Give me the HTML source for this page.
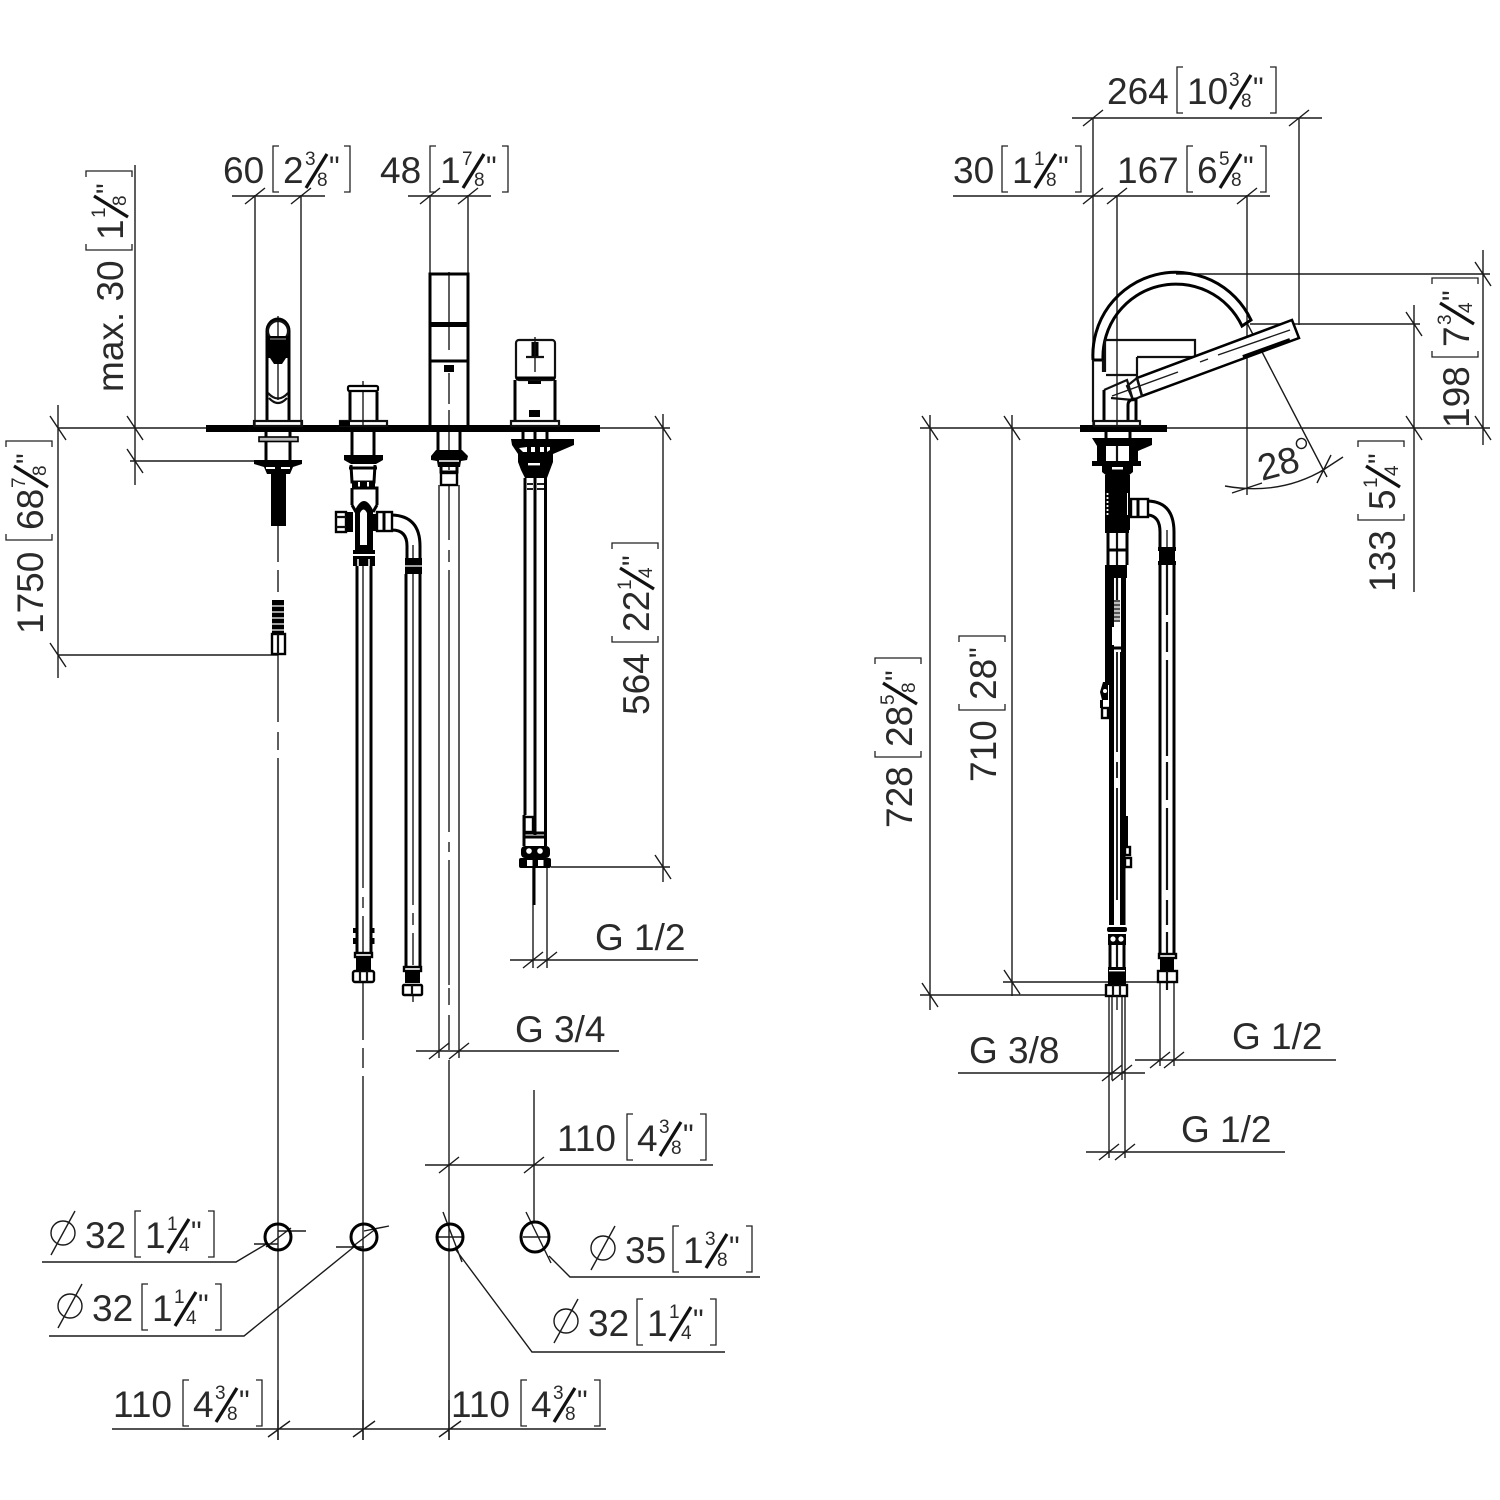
<!DOCTYPE html>
<html><head><meta charset="utf-8"><style>
html,body{margin:0;padding:0;background:#fff}
svg{display:block}
text{font-family:"Liberation Sans",sans-serif;font-size:37px;fill:#2a2a2a;stroke:none;transform:translateY(-1px)}
.s{font-size:19px}
.q{font-size:30px}
.n{fill:none;stroke:#1a1a1a;stroke-width:1.4}
.m{fill:none;stroke:#111;stroke-width:2.2}
.k{fill:none;stroke:#000;stroke-width:3}
.b{fill:#000;stroke:none}
.w{fill:#fff;stroke:#000;stroke-width:2.4}
.f{fill:none;stroke:#111;stroke-width:3.2}
.l{fill:none;stroke:#222;stroke-width:1.3}
</style></head><body>
<svg width="1500" height="1500" viewBox="0 0 1500 1500" xmlns="http://www.w3.org/2000/svg">
<rect width="1500" height="1500" fill="#fff"/>

<!-- LEFT VIEW dimension lines -->
<path class="n" d="M255 195V428M301 195V428M232 196H325M245 204L265 188M291 204L311 188
M430 195V428M468 195V428M408 196H491M420 204L440 188M458 204L478 188
M135 165V485M58 428H206M130 461H258M127 416L143 440M127 449L143 473
M58 405V678M58 655H278M50 416L66 440M50 643L66 667
M663 414V882M600 428H670M551 867H670M655 416L671 440M655 855L671 879
M510 960H698M533 868V968M547 868V968M523 968L543 952M537 968L557 952
M416 1051H619M439 485V1058M459 485V1058M429 1059L449 1043M449 1059L469 1043
M425 1165H713M534 1090V1222M439 1173L459 1157M524 1173L544 1157
M112 1429H606M278 1400V1440M363 1400V1440M449 1400V1440M268 1437L290 1421M353 1437L375 1421M439 1437L461 1421"/>
<!-- centre lines -->
<path class="n" d="M278 526V562M278 570V592M278 655V722M278 732V750M278 758V1440
M363 982V1040M363 1048V1068M363 1076V1440
M449 1060V1440"/>
<path class="n" d="M278 316V400M363 381V425M449 272V350M449 373V404M449 410V428M449 432V470M535 337V372"/>
<path class="n" d="M449 485V540M449 550V562M449 570V832M449 842V852M449 860V985M449 988V1005M449 1015V1050"/>
<path class="n" d="M363 566V888M363 897V908M363 916V953M413 574V905M413 913V925M413 933V965M413 995V1002"/>

<!-- Deck -->
<rect class="b" x="206" y="425" width="394" height="7"/>

<!-- Tap 1 -->
<path class="k" d="M267 421V331A11 12 0 0 1 289 331V421"/>
<circle class="m" cx="278" cy="331" r="10"/>
<rect class="b" x="268" y="336" width="20" height="22"/>
<path class="b" d="M270 358h16l-4 6h-8z"/>
<path d="M270 339h16" stroke="#888" stroke-width="1.2"/>
<path class="m" d="M268 393Q278 404 288 393M269 398Q278 408 287 398"/>
<rect class="m" x="254" y="421" width="48" height="5"/>
<path class="k" d="M266 432V461M290 432V461"/>
<rect x="259" y="437" width="39" height="4.5" fill="#bbb" stroke="#000" stroke-width="1.6"/>
<path class="b" d="M254 460H302V464L293 467L290 474H267L264 467L254 464Z"/>
<path d="M266 468H275M281 468H290" stroke="#fff" stroke-width="2"/>
<rect class="b" x="271" y="473" width="15" height="53"/>
<!-- lower thread -->
<path class="b" d="M272 600h12v34h-12z"/>
<path d="M272 606h12M272 612h12M272 618h12M272 624h12M272 630h12" stroke="#fff" stroke-width="1.2"/>
<rect class="w" x="272" y="634" width="13" height="20"/>
<path class="m" d="M278 634V654"/>

<!-- Tap 2 -->
<path class="k" d="M350 392V421M377 392V421"/>
<rect x="348" y="386" width="30" height="5" rx="1.5" fill="#fff" stroke="#000" stroke-width="2.2"/>
<rect class="m" x="340" y="421" width="47" height="5"/>
<rect class="b" x="339" y="421" width="11" height="5"/>
<path class="k" d="M352 432V456M374 432V456"/>
<path class="b" d="M344 455H383V460L376 464H351L344 460Z"/>
<path class="k" d="M351 465L352 482H374L375 465M349 468H377"/>
<rect class="b" x="352" y="482" width="23" height="5"/>
<path d="M359 482V487M368 482V487" stroke="#fff" stroke-width="2"/>
<path class="k" d="M352 488H377V505M352 488V505"/>
<path class="b" d="M355 552V510Q364 492 373 510V552Z"/>
<path fill="#fff" d="M360 545V513Q363.500 506 367 513V545Z"/>
<path class="k" d="M352 505L356 512M377 505L373 512"/>
<rect class="b" x="345" y="512" width="8" height="20"/>
<rect class="w" x="336" y="512" width="10" height="20"/>
<path class="m" d="M336 517H346M336 527H346"/>
<rect class="b" x="373" y="514" width="4" height="17"/>
<rect class="w" x="377" y="512" width="15" height="19"/>
<path class="k" d="M384 512V531"/>
<path class="k" d="M392 515Q420 516 420 546V560M392 530Q407 530 407 546V560"/>
<path class="b" d="M353 550H375V554H353ZM353 556H375V566H353Z"/>
<path d="M358 559V566M369 559V566" stroke="#fff" stroke-width="1.5"/>
<path class="k" d="M357 566V953M371 566V953"/>
<rect class="w" x="355" y="953" width="17" height="4"/>
<rect class="b" x="356" y="957" width="15" height="13"/>
<rect class="w" x="353" y="971" width="21" height="11" rx="2"/>
<path class="m" d="M360 971V982M367 971V982"/>
<path class="k" d="M354.500 928V933M354.500 938V944M373 928V933M373 938V944"/>
<!-- tap 2 hose right -->
<rect class="b" x="405" y="558" width="17" height="16"/>
<path d="M405 566H422" stroke="#fff" stroke-width="1.2"/>
<path class="n" d="M413 545V558"/>
<path class="k" d="M406 574V968M420 574V968"/>
<rect class="w" x="404" y="967" width="17" height="4"/>
<rect class="b" x="405" y="971" width="15" height="12"/>
<rect class="w" x="403" y="985" width="19" height="10" rx="1"/>
<path class="m" d="M412 985V995"/>

<!-- Tap 3 -->
<rect class="k" x="430" y="274" width="38" height="153"/>
<rect class="b" x="430" y="322" width="38" height="5"/>
<path class="k" d="M430 361H468"/>
<rect class="b" x="444" y="365" width="10" height="7"/>
<path class="k" d="M438 432V452M460 432V452"/>
<path class="b" d="M436 450H462L468 456L467 460L461 461L460 467H438L437 461L431 460L431 456Z"/>
<path d="M439 461H459" stroke="#fff" stroke-width="1.6"/>
<path class="k" d="M441 467V472H457V467"/>
<rect class="w" x="441" y="473" width="16" height="12"/>

<!-- Tap 4 -->
<rect class="m" x="516" y="340" width="39" height="40" rx="3"/>
<path class="k" d="M515 380V421M555 380V421M516 378H555"/>
<path class="m" d="M526 357H544"/>
<path class="k" d="M533 342V356M537 342V356"/>
<rect class="b" x="528" y="381" width="13" height="3"/>
<rect class="b" x="529" y="410" width="11" height="7"/>
<rect class="m" x="511" y="421" width="48" height="5"/>
<path class="k" d="M523 432V440M547 432V440M535 432V440"/>
<path class="b" d="M511 439H574V445L553 454V462L550 470L547 478H525L521 470L518 462V454L512 445Z"/>
<path d="M519 448l4 4h4v-5zM531 447v5h4v-5zM540 447v5h4v-5zM547 447v5l3-2v-3z" fill="#fff"/>
<rect x="528" y="463" width="12" height="2.400" fill="#fff"/>
<path class="k" d="M525 478V815" stroke-width="3.600"/>
<path class="k" d="M545.500 478V846" stroke-width="3.600"/>
<path class="k" d="M535 478V835" stroke-width="4"/>
<path d="M527 484H533M537 484H544M527 489H533M537 489H544" stroke="#000" stroke-width="1.8"/>
<rect class="w" x="524.500" y="817" width="8.500" height="15"/>
<path class="k" d="M524 815V846"/>
<path class="k" d="M523 833H547M523 837H547"/>
<rect class="b" x="521" y="846" width="29" height="12" rx="4"/>
<circle cx="529" cy="851" r="2.800" fill="#fff"/><circle cx="540" cy="851" r="2.800" fill="#fff"/>
<rect class="b" x="519" y="858" width="32" height="10" rx="2"/>
<rect x="527" y="860" width="5.500" height="6" fill="#fff"/><rect x="538" y="860" width="5.500" height="6" fill="#fff"/>
<path class="k" d="M534 868V905"/>

<!-- Plan circles -->
<path class="n" d="M254 1244H278M278 1231H306M266 1247L291 1228M336 1247H364M364 1231L389 1226M352 1247L377 1228
M443 1212L462 1262M438 1237H462M526 1212L551 1263M523 1237H548
M268 1243L236 1262H42M355 1246L244 1336H49M456 1250L532 1352H725M549 1256L570 1277H760"/>
<ellipse class="k" cx="278" cy="1237" rx="13" ry="13"/>
<ellipse class="k" cx="364" cy="1237" rx="13" ry="13"/>
<ellipse class="k" cx="450" cy="1237" rx="13" ry="13"/>
<ellipse class="k" cx="535" cy="1237" rx="14" ry="15"/>

<!-- RIGHT VIEW dimension lines -->
<path class="n" d="M1072 118H1322M1093 118V428M1299 118V325M1083 126L1103 110M1289 126L1309 110
M953 196H1270M1117 195V428M1247 195V495M1083 204L1103 188M1107 204L1127 188M1237 204L1257 188
M920 428H1490M1176 274H1490M1250 324H1420
M1414 305V592M1406 312L1422 336M1406 416L1422 440
M1483 250V445M1475 262L1491 286M1475 416L1491 440
M930 415V1010M920 995H1105M922 416L938 440M922 983L938 1007
M1012 415V996M1003 982H1177M1004 416L1020 440M1004 970L1020 994
M1135 1060H1336M1160 982V1066M1174 982V1066M1150 1068L1170 1052M1164 1068L1184 1052
M958 1073H1145M1112 996V1080M1122 996V1080M1102 1081L1122 1065M1112 1081L1132 1065
M1086 1152H1285M1109 996V1158M1125 996V1158M1099 1160L1119 1144M1115 1160L1135 1144
M1247 323L1327 477M1232 493L1262 483M1317 483L1331 455M1320 472L1343 457"/>
<path class="n" d="M1225 486Q1280 496 1325 469"/>
<rect class="b" x="1080" y="425" width="87" height="7"/>
<!-- Spout -->
<path class="k" d="M1093 360A83 83 0 0 1 1251 320L1242 326A73 73 0 0 0 1103 360M1093 360H1103" stroke-width="2.400"/>
<path class="m" d="M1093 360V422M1103 360V372"/>
<path class="m" d="M1105 340H1195V356M1105 340V372M1137 357H1193M1137 357V377M1106 375H1137"/>
<path d="M1137 378L1292 320L1299 338L1142 396Z" fill="#fff" stroke="#000" stroke-width="2.500"/>
<path class="m" d="M1127 386L1137 378L1142 396L1133 400Z"/>
<path class="m" d="M1104 390L1127 380L1133 400L1111 398"/>
<path class="n" d="M1112 396L1178 372M1200 362L1208 359M1218 355L1290 330"/>
<path d="M1243 357L1290 340" stroke="#000" stroke-width="4" fill="none"/>
<path class="k" d="M1104 390V420M1128 422V405Q1128 399 1136 399V420"/>
<rect class="m" x="1094" y="421" width="46" height="5"/>
<!-- Under deck -->
<path class="k" d="M1106 432V440M1130 432V440"/>
<path class="b" d="M1092 438H1152V445L1138 451V461H1141V466L1133 466V472L1128 476H1107L1102 472V466H1092V461H1097V446Z"/>
<rect x="1106" y="446" width="23" height="15" fill="#fff"/>
<path class="m" d="M1117 446V461"/>
<rect x="1112" y="467" width="11" height="2.500" fill="#fff"/>
<rect class="b" x="1105" y="475" width="25" height="55"/>
<path d="M1107.500 493V515" stroke="#fff" stroke-width="1.800" stroke-dasharray="2 2"/>
<path d="M1127.500 493V515" stroke="#fff" stroke-width="1" />
<rect class="w" x="1131" y="499" width="17" height="18"/>
<path class="k" d="M1138 499V517"/>
<path class="k" d="M1148 501Q1174 502 1174 532V547M1148 515Q1160 516 1160 532V547"/>
<path class="n" d="M1167 530V547"/>
<rect class="b" x="1105" y="530" width="24" height="3"/>
<path class="k" d="M1108 533V565M1127 533V565" stroke-width="3.500"/>
<path class="m" d="M1117 533V565"/>
<path class="k" d="M1108 550H1127"/>
<path class="b" d="M1106 565H1127V578H1106Z"/>
<rect class="b" x="1105" y="565" width="4" height="120"/>
<rect class="b" x="1109" y="578" width="5" height="74"/>
<rect class="b" x="1121" y="578" width="5" height="240"/>
<path class="m" d="M1117 578V600"/>
<path d="M1114 600H1120V622H1114Z" fill="#555"/>
<path d="M1114 603h6M1114 607h6M1114 611h6M1114 615h6M1114 619h6" stroke="#fff" stroke-width="1.200"/>
<rect x="1112" y="627" width="9" height="18" fill="#fff"/>
<path class="k" d="M1110 648H1124"/>
<rect class="b" x="1109" y="652" width="5" height="273"/>
<rect class="b" x="1120" y="652" width="5.500" height="273"/>
<path d="M1117 652V752M1117 762V778M1117 788V900" stroke="#111" stroke-width="1.800" fill="none"/>
<!-- clips -->
<path class="b" d="M1108 682V700L1102 700L1100 692L1103 682Z"/>
<circle cx="1105" cy="691" r="2" fill="#fff"/>
<rect class="w" x="1102" y="708" width="6" height="10"/>
<path class="k" d="M1101.500 700V708"/>
<rect class="b" x="1125" y="816" width="3" height="30"/>
<rect class="w" x="1125" y="847" width="5" height="8"/>
<rect class="w" x="1125" y="858" width="6" height="9"/>
<!-- bottom of main hose -->
<rect class="b" x="1107" y="927" width="20" height="5" rx="2"/>
<rect class="b" x="1108" y="934" width="18" height="11"/>
<circle cx="1113" cy="939" r="2.600" fill="#fff"/><circle cx="1121" cy="939" r="2.600" fill="#fff"/>
<path class="k" d="M1110 945V968M1124 945V968"/><path class="m" d="M1117 945V968"/>
<rect class="b" x="1108" y="967" width="18" height="17"/>
<rect x="1109" y="970" width="16" height="1.400" fill="#fff"/>
<rect class="w" x="1106" y="985" width="21" height="11"/>
<path class="m" d="M1113 985V996M1120 985V996"/>
<path class="n" d="M1117 996V1010"/>
<!-- right hose -->
<rect class="b" x="1158" y="547" width="18" height="4"/>
<rect class="b" x="1159" y="551" width="16" height="10"/>
<rect class="b" x="1158" y="561" width="18" height="4"/>
<path class="k" d="M1160 565V955M1174 565V955"/>
<path class="m" d="M1167 565V615M1167 622V652M1167 660V756M1167 762V800M1167 808V890M1167 900V925M1167 932V990"/>
<rect class="w" x="1159" y="954" width="17" height="4"/>
<rect class="b" x="1160" y="958" width="14" height="13"/>
<rect class="w" x="1158" y="971" width="19" height="11"/>
<path class="m" d="M1167 971V982"/>

<!-- LABELS -->
<g transform="translate(223,184)"><text x="0">60</text><path class="l" d="M56-38h-6v46h6M121-38h6v46h-6"/><text x="60">2</text><text class="s" x="82" y="-18">3</text><path class="f" d="M83 4L104-30"/><text class="s" x="94" y="3">8</text><text class="q" x="106" y="-6">"</text></g>
<g transform="translate(380,184)"><text x="0">48</text><path class="l" d="M56-38h-6v46h6M122-38h6v46h-6"/><text x="60">1</text><text class="s" x="82" y="-18">7</text><path class="f" d="M83 4L104-30"/><text class="s" x="94" y="3">8</text><text class="q" x="106" y="-6">"</text></g>
<g transform="translate(1107,105)"><text x="0">264</text><path class="l" d="M76-38h-6v46h6M163-38h6v46h-6"/><text x="80">10</text><text class="s" x="122" y="-18">3</text><path class="f" d="M123 4L144-30"/><text class="s" x="134" y="3">8</text><text class="q" x="146" y="-6">"</text></g>
<g transform="translate(953,184)"><text x="0">30</text><path class="l" d="M55-38h-6v46h6M122-38h6v46h-6"/><text x="59">1</text><text class="s" x="81" y="-18">1</text><path class="f" d="M82 4L103-30"/><text class="s" x="93" y="3">8</text><text class="q" x="105" y="-6">"</text></g>
<g transform="translate(1117,184)"><text x="0">167</text><path class="l" d="M76-38h-6v46h6M143-38h6v46h-6"/><text x="80">6</text><text class="s" x="102" y="-18">5</text><path class="f" d="M103 4L124-30"/><text class="s" x="114" y="3">8</text><text class="q" x="126" y="-6">"</text></g>
<g transform="translate(557,1152)"><text x="0">110</text><path class="l" d="M76-38h-6v46h6M143-38h6v46h-6"/><text x="80">4</text><text class="s" x="102" y="-18">3</text><path class="f" d="M103 4L124-30"/><text class="s" x="114" y="3">8</text><text class="q" x="126" y="-6">"</text></g>
<g transform="translate(113,1418)"><text x="0">110</text><path class="l" d="M76-38h-6v46h6M143-38h6v46h-6"/><text x="80">4</text><text class="s" x="102" y="-18">3</text><path class="f" d="M103 4L124-30"/><text class="s" x="114" y="3">8</text><text class="q" x="126" y="-6">"</text></g>
<g transform="translate(451,1418)"><text x="0">110</text><path class="l" d="M76-38h-6v46h6M143-38h6v46h-6"/><text x="80">4</text><text class="s" x="102" y="-18">3</text><path class="f" d="M103 4L124-30"/><text class="s" x="114" y="3">8</text><text class="q" x="126" y="-6">"</text></g>

<g transform="translate(85,1249)"><circle class="n" cx="-22" cy="-16" r="12"/><path class="n" d="M-34 6L-10-38"/><text x="0">32</text><path class="l" d="M56-38h-6v46h6M123-38h6v46h-6"/><text x="60">1</text><text class="s" x="82" y="-18">1</text><path class="f" d="M83 4L104-30"/><text class="s" x="94" y="3">4</text><text class="q" x="106" y="-6">"</text></g>
<g transform="translate(92,1322)"><circle class="n" cx="-22" cy="-16" r="12"/><path class="n" d="M-34 6L-10-38"/><text x="0">32</text><path class="l" d="M56-38h-6v46h6M123-38h6v46h-6"/><text x="60">1</text><text class="s" x="82" y="-18">1</text><path class="f" d="M83 4L104-30"/><text class="s" x="94" y="3">4</text><text class="q" x="106" y="-6">"</text></g>
<g transform="translate(625,1264)"><circle class="n" cx="-22" cy="-16" r="12"/><path class="n" d="M-34 6L-10-38"/><text x="0">35</text><path class="l" d="M54-38h-6v46h6M121-38h6v46h-6"/><text x="58">1</text><text class="s" x="80" y="-18">3</text><path class="f" d="M81 4L102-30"/><text class="s" x="92" y="3">8</text><text class="q" x="104" y="-6">"</text></g>
<g transform="translate(588,1337)"><circle class="n" cx="-22" cy="-16" r="12"/><path class="n" d="M-34 6L-10-38"/><text x="0">32</text><path class="l" d="M55-38h-6v46h6M122-38h6v46h-6"/><text x="59">1</text><text class="s" x="81" y="-18">1</text><path class="f" d="M82 4L103-30"/><text class="s" x="93" y="3">4</text><text class="q" x="105" y="-6">"</text></g>

<g transform="translate(124,392) rotate(-90)"><text x="0">max. 30</text><path class="l" d="M148-38h-6v46h6M215-38h6v46h-6"/><text x="152">1</text><text class="s" x="174" y="-18">1</text><path class="f" d="M175 4L196-30"/><text class="s" x="186" y="3">8</text><text class="q" x="198" y="-6">"</text></g>
<g transform="translate(44,634) rotate(-90)"><text x="0">1750</text><path class="l" d="M100-38h-6v46h6M187-38h6v46h-6"/><text x="104">68</text><text class="s" x="146" y="-18">7</text><path class="f" d="M147 4L168-30"/><text class="s" x="158" y="3">8</text><text class="q" x="170" y="-6">"</text></g>
<g transform="translate(650,715) rotate(-90)"><text x="0">564</text><path class="l" d="M79-38h-6v46h6M166-38h6v46h-6"/><text x="83">22</text><text class="s" x="125" y="-18">1</text><path class="f" d="M126 4L147-30"/><text class="s" x="137" y="3">4</text><text class="q" x="149" y="-6">"</text></g>
<g transform="translate(913,828) rotate(-90)"><text x="0">728</text><path class="l" d="M77-38h-6v46h6M164-38h6v46h-6"/><text x="81">28</text><text class="s" x="123" y="-18">5</text><path class="f" d="M124 4L145-30"/><text class="s" x="135" y="3">8</text><text class="q" x="147" y="-6">"</text></g>
<g transform="translate(997,782) rotate(-90)"><text x="0">710</text><path class="l" d="M78-38h-6v46h6M140-38h6v46h-6"/><text x="82">28</text><text class="q" x="124" y="-6">"</text></g>
<g transform="translate(1396,592) rotate(-90)"><text x="0">133</text><path class="l" d="M78-38h-6v46h6M145-38h6v46h-6"/><text x="82">5</text><text class="s" x="104" y="-18">1</text><path class="f" d="M105 4L126-30"/><text class="s" x="116" y="3">4</text><text class="q" x="128" y="-6">"</text></g>
<g transform="translate(1470,428) rotate(-90)"><text x="0">198</text><path class="l" d="M77-38h-6v46h6M144-38h6v46h-6"/><text x="81">7</text><text class="s" x="103" y="-18">3</text><path class="f" d="M104 4L125-30"/><text class="s" x="115" y="3">4</text><text class="q" x="127" y="-6">"</text></g>

<g transform="translate(1262,482) rotate(-15)"><text x="0">28</text><circle class="n" cx="48" cy="-27" r="5"/></g>

<text x="595" y="951">G 1/2</text>
<text x="515" y="1043">G 3/4</text>
<text x="969" y="1064">G 3/8</text>
<text x="1232" y="1050">G 1/2</text>
<text x="1181" y="1143">G 1/2</text>
</svg>
</body></html>
